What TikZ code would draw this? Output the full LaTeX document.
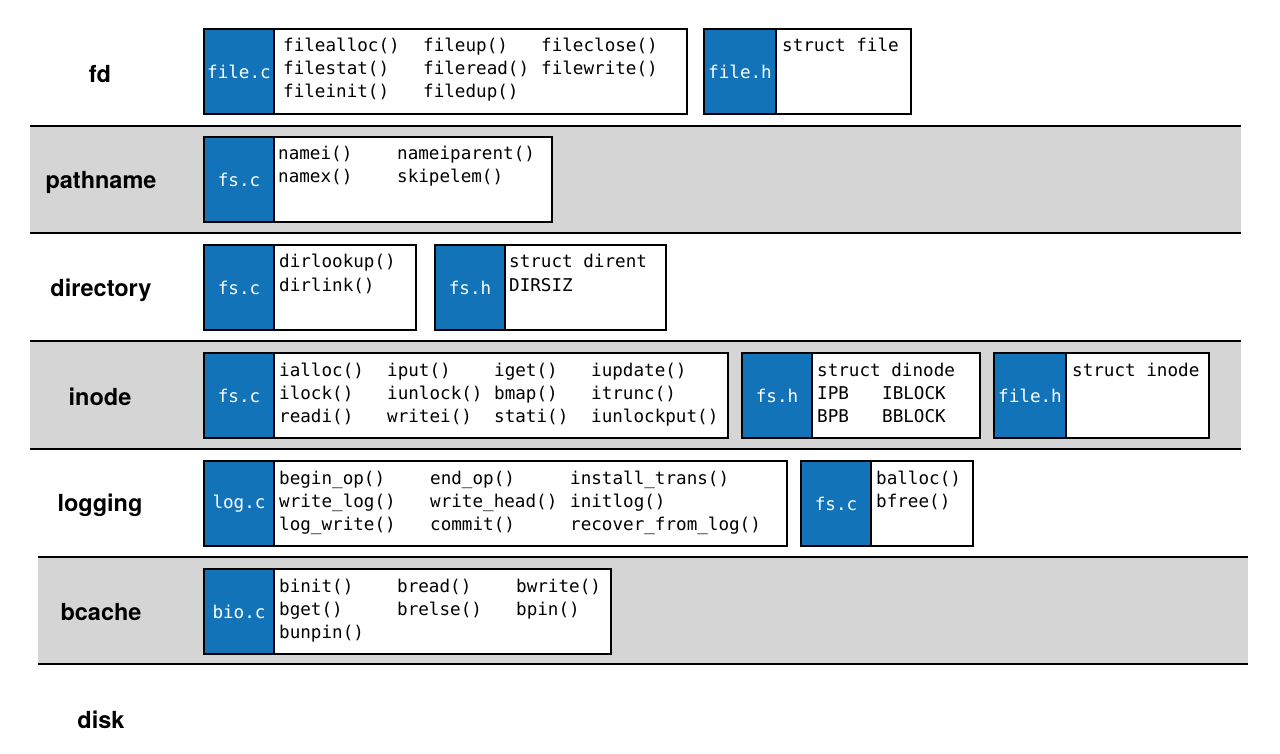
\documentclass[tikz,border=0pt]{standalone}
\usepackage{fontspec}
\setmainfont{TeX Gyre Heros}
\setmonofont{DejaVu Sans Mono}
\definecolor{fsblue}{RGB}{18,115,184}
\definecolor{band}{RGB}{213,213,213}
\tikzset{
  lbl/.style={font=\bfseries\fontsize{23.5}{28}\selectfont, inner sep=0},
  code/.style={font=\ttfamily\fontsize{17.6}{20}\selectfont, anchor=base west, inner sep=0},
  fname/.style={font=\ttfamily\fontsize{17.6}{20}\selectfont, text=white, inner sep=0},
  boxline/.style={draw=black, line width=1.1pt},
  sep/.style={draw=black, line width=1.1pt},
}
% \blk{name}{x0}{xs}{x1}{ytop}{label}
\newcommand\blk[6]{%
  \fill[white] (#3,#5) rectangle (#4,#5+85);
  \fill[fsblue] (#2,#5) rectangle (#3,#5+85);
  \draw[boxline] (#2,#5) rectangle (#4,#5+85);
  \draw[boxline] (#3,#5) -- (#3,#5+85);
  \node[fname] (#1) at ({(#2+#3)/2},#5+43) {#6};}
% \cl{x}{ytop}{line}{text}
\newcommand\cl[4]{\node[code] at (#1,#2+23+23*#3) {#4};}
\begin{document}
\begin{tikzpicture}[x=1pt,y=-1pt]
\useasboundingbox (0,0) rectangle (1280,754);
\fill[white] (0,0) rectangle (1280,754);
% bands
\fill[band] (30,126) rectangle (1241,233);
\fill[band] (30,341) rectangle (1241,449);
\fill[band] (38,557) rectangle (1248,664);
\foreach \y in {126,233,341,449} {\draw[sep] (30,\y) -- (1241,\y);}
\foreach \y in {557,664} {\draw[sep] (38,\y) -- (1248,\y);}
% layer labels
\node[lbl] (lfd) at (100,74) {fd};
\node[lbl] (lpath) at (101,182) {pathname};
\node[lbl] (ldir) at (101,290) {directory};
\node[lbl] (linode) at (100,397) {inode};
\node[lbl] (llog) at (100,505) {logging};
\node[lbl] (lbc) at (101,612) {bcache};
\node[lbl] (ldisk) at (101,720) {disk};
% fd
\blk{filec}{204}{274}{687}{29}{file.c}
\cl{283}{29}{0}{filealloc()}\cl{423}{29}{0}{fileup()}\cl{541}{29}{0}{fileclose()}
\cl{283}{29}{1}{filestat()}\cl{423}{29}{1}{fileread()}\cl{541}{29}{1}{filewrite()}
\cl{283}{29}{2}{fileinit()}\cl{423}{29}{2}{filedup()}
\blk{fileh}{704}{776}{911}{29}{file.h}
\cl{782}{29}{0}{struct file}
% pathname
\blk{fsc1}{204}{274}{552}{137}{fs.c}
\cl{278}{137}{0}{namei()}\cl{397}{137}{0}{nameiparent()}
\cl{278}{137}{1}{namex()}\cl{397}{137}{1}{skipelem()}
% directory
\blk{fsc2}{204}{274}{416}{245}{fs.c}
\cl{279}{245}{0}{dirlookup()}\cl{279}{245}{1}{dirlink()}
\blk{fsh2}{435}{505}{666}{245}{fs.h}
\cl{509}{245}{0}{struct dirent}\cl{509}{245}{1}{DIRSIZ}
% inode
\blk{fsc3}{204}{274}{728}{353}{fs.c}
\cl{279}{353}{0}{ialloc()}\cl{387}{353}{0}{iput()}\cl{494}{353}{0}{iget()}\cl{591}{353}{0}{iupdate()}
\cl{279}{353}{1}{ilock()}\cl{387}{353}{1}{iunlock()}\cl{494}{353}{1}{bmap()}\cl{591}{353}{1}{itrunc()}
\cl{279}{353}{2}{readi()}\cl{387}{353}{2}{writei()}\cl{494}{353}{2}{stati()}\cl{591}{353}{2}{iunlockput()}
\blk{fsh3}{742}{812}{980}{353}{fs.h}
\cl{817}{353}{0}{struct dinode}
\cl{817}{353}{1}{IPB}\cl{882}{353}{1}{IBLOCK}
\cl{817}{353}{2}{BPB}\cl{882}{353}{2}{BBLOCK}
\blk{fileh3}{994}{1066}{1209}{353}{file.h}
\cl{1072}{353}{0}{struct inode}
% logging
\blk{logc}{204}{274}{787}{461}{log.c}
\cl{279}{461}{0}{begin\_op()}\cl{430}{461}{0}{end\_op()}\cl{570}{461}{0}{install\_trans()}
\cl{279}{461}{1}{write\_log()}\cl{430}{461}{1}{write\_head()}\cl{570}{461}{1}{initlog()}
\cl{279}{461}{2}{log\_write()}\cl{430}{461}{2}{commit()}\cl{570}{461}{2}{recover\_from\_log()}
\blk{fsc4}{801}{871}{973}{461}{fs.c}
\cl{876}{461}{0}{balloc()}\cl{876}{461}{1}{bfree()}
% bcache
\blk{bioc}{204}{274}{611}{569}{bio.c}
\cl{279}{569}{0}{binit()}\cl{397}{569}{0}{bread()}\cl{516}{569}{0}{bwrite()}
\cl{279}{569}{1}{bget()}\cl{397}{569}{1}{brelse()}\cl{516}{569}{1}{bpin()}
\cl{279}{569}{2}{bunpin()}
\end{tikzpicture}
\end{document}
